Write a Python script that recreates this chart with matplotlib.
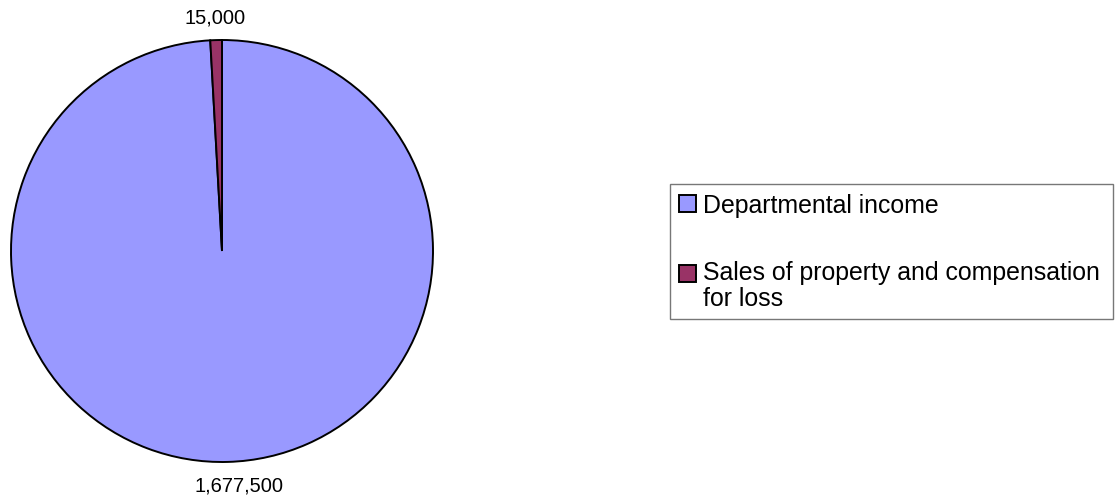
import matplotlib
matplotlib.use("Agg")
import matplotlib.pyplot as plt

plt.rcParams["font.family"] = ["Liberation Sans", "DejaVu Sans"]

categories = ["Departmental income", "Sales of property and compensation\nfor loss"]
values = [1677500, 15000]
value_labels = ["1,677,500", "15,000"]
colors = ["#9999FF", "#993366"]

W, H = 1115, 502
fig = plt.figure(figsize=(W / 100, H / 100), dpi=100)

# pie area: centre ~(222,252) px, radius ~211 px
cx, cy, r = 222, 252, 211
ax = fig.add_axes([(cx - r) / W, (H - cy - r) / H, 2 * r / W, 2 * r / H])
wedges, texts = ax.pie(values, labels=value_labels, colors=colors,
                       startangle=90, counterclock=False, radius=1,
                       labeldistance=1.11,
                       wedgeprops=dict(edgecolor="black", linewidth=1.4),
                       textprops=dict(fontsize=14.5))
for t in texts:
    t.set_ha("center")
    t.set_va("center")
    x, y = t.get_position()
    if x > 0:
        t.set_x(x + 0.05)
ax.set_xlim(-1, 1)
ax.set_ylim(-1, 1)
ax.set_aspect("auto")
ax.axis("off")

# legend box ~ x 670..1113, y 185..319 px
leg = fig.legend(wedges, categories, loc="upper left", mode="expand",
                 bbox_to_anchor=(670 / W, (H - 319) / H, 443 / W, 134 / H),
                 fontsize=17.9, frameon=True, fancybox=False,
                 borderaxespad=0, borderpad=0.36, labelspacing=1.75,
                 handlelength=0.68, handleheight=0.68, handletextpad=0.3)
leg.get_frame().set_edgecolor("#555555")
leg.get_frame().set_linewidth(1.0)
for t in leg.texts:
    t.set_linespacing(1.1)
for h in leg.legend_handles:
    h.set_edgecolor("black")
    h.set_linewidth(1.4)
# put the marker of the two-line entry on its first line
leg.legend_handles[1].set_y(leg.legend_handles[1].get_y() + 9.0)

fig.savefig("out.png", dpi=100)
